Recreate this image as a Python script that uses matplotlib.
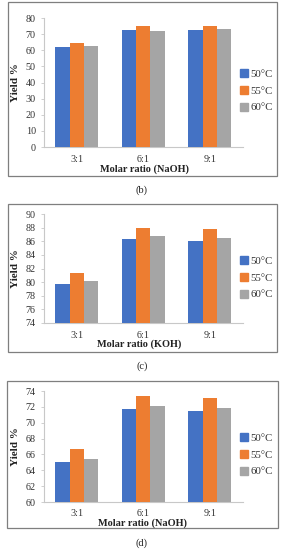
import matplotlib
matplotlib.use("Agg")
import matplotlib.pyplot as plt
from matplotlib.patches import Rectangle
from matplotlib.lines import Line2D
import numpy as np

plt.rcParams['font.family'] = ['Liberation Serif', 'DejaVu Serif']

categories = ["3:1", "6:1", "9:1"]
series = ["50°C", "55°C", "60°C"]
colors = ["#4472C4", "#ED7D31", "#A5A5A5"]

# panel (b) NaOH
b_50 = [62.1, 72.6, 72.6]
b_55 = [64.4, 74.9, 74.9]
b_60 = [62.8, 71.9, 73.2]
# panel (c) KOH
c_50 = [79.7, 86.3, 86.1]
c_55 = [81.3, 88.0, 87.8]
c_60 = [80.1, 86.7, 86.5]
# panel (d) NaOH
d_50 = [65.0, 71.7, 71.5]
d_55 = [66.7, 73.4, 73.1]
d_60 = [65.4, 72.1, 71.9]

yticks_b = [0, 10, 20, 30, 40, 50, 60, 70, 80]
yticks_c = [74, 76, 78, 80, 82, 84, 86, 88, 90]
yticks_d = [60, 62, 64, 66, 68, 70, 72, 74]

W, H = 285, 550
fig = plt.figure(figsize=(W / 100, H / 100), dpi=100)


def px_rect(l, t, r, b):
    return [l / W, 1 - b / H, (r - l) / W, (b - t) / H]


panels = [
    dict(data=[b_50, b_55, b_60], yt=yticks_b, top=18, bot=147, frame=(8, 2, 277, 176),
         xlabel="Molar ratio (NaOH)", xl=(145, 169), tag="(b)", tagy=190, legy=91, pad=6),
    dict(data=[c_50, c_55, c_60], yt=yticks_c, top=214, bot=323, frame=(8, 204, 277, 352),
         xlabel="Molar ratio (KOH)", xl=(139, 344.5), tag="(c)", tagy=366, legy=278, pad=5.5),
    dict(data=[d_50, d_55, d_60], yt=yticks_d, top=391, bot=502, frame=(7, 381, 278, 528),
         xlabel="Molar ratio (NaOH)", xl=(143, 523), tag="(d)", tagy=543, legy=455, pad=4.8),
]

x = np.arange(len(categories))
bw = 0.215

for p in panels:
    fl, ft, fr, fb = p["frame"]
    fig.patches.append(Rectangle((fl / W, 1 - fb / H), (fr - fl) / W, (fb - ft) / H,
                                 transform=fig.transFigure, fill=False,
                                 edgecolor="#7f7f7f", lw=0.9))
    ax = fig.add_axes(px_rect(43.5, p["top"], 243, p["bot"]))
    for i, (vals, c, s) in enumerate(zip(p["data"], colors, series)):
        ax.bar(x + (i - 1) * bw, vals, width=bw, color=c, label=s, zorder=3)
    ax.set_xlim(-0.5, 2.5)
    ax.set_ylim(p["yt"][0], p["yt"][-1])
    ax.set_yticks(p["yt"])
    ax.set_xticks(x)
    ax.set_xticklabels(categories)
    for side in ["top", "right"]:
        ax.spines[side].set_visible(False)
    for side in ["left", "bottom"]:
        ax.spines[side].set_color("#c8c8c8")
        ax.spines[side].set_linewidth(0.8)
    ax.tick_params(axis="y", length=2.5, width=0.6, color="#c8c8c8", labelsize=7.3, pad=3,
                   labelcolor="#333333")
    ax.tick_params(axis="x", length=0, labelsize=7.3, pad=p["pad"], labelcolor="#333333")
    ax.patch.set_alpha(0)
    fig.text(p["xl"][0] / W, 1 - p["xl"][1] / H, p["xlabel"], ha="center", va="center",
             fontsize=7.4, fontweight="bold", color="#222222")
    fig.text(16 / W, 1 - (p["top"] + p["bot"]) / 2 / H, "Yield %", rotation=90,
             ha="center", va="center", fontsize=8, fontweight="bold", color="#222222")
    fig.text(142 / W, 1 - p["tagy"] / H, p["tag"], ha="center", va="center",
             fontsize=7.5, color="#222222")
    handles = [Line2D([], [], marker="s", linestyle="none", markersize=5.5,
                      markerfacecolor=c, markeredgecolor=c) for c in colors]
    fig.legend(handles, series, loc="center left",
               bbox_to_anchor=(234 / W, 1 - p["legy"] / H), frameon=False,
               fontsize=7.8, handlelength=0.8, handletextpad=0.2,
               labelspacing=0.65, borderpad=0, labelcolor="#333333")

fig.savefig("out.png", dpi=100)
